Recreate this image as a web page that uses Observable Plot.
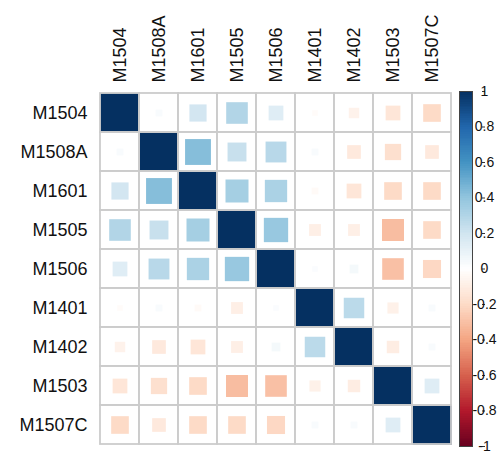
<!DOCTYPE html>
<html>
<head>
<meta charset="utf-8">
<script src="https://cdn.jsdelivr.net/npm/d3@7"></script>
<script src="https://cdn.jsdelivr.net/npm/@observablehq/plot@0.6"></script>
<style>
  html, body { margin: 0; padding: 0; background: #fff; }
  #wrap { position: relative; width: 497px; height: 455px; overflow: hidden; font-family: "Liberation Sans", Arial, sans-serif; }
  #wrap svg { position: absolute; left: 0; top: 0; }
</style>
</head>
<body>
<div id="wrap"></div>
<script>
// Variables (rows and columns, same order)
const vars = ["M1504", "M1508A", "M1601", "M1505", "M1506", "M1401", "M1402", "M1503", "M1507C"];

// Correlation matrix rows
const rowM1504  = [ 1.00,  0.03,  0.19,  0.30,  0.14, -0.02, -0.07, -0.14, -0.20];
const rowM1508A = [ 0.03,  1.00,  0.43,  0.23,  0.28,  0.03, -0.12, -0.17, -0.12];
const rowM1601  = [ 0.19,  0.43,  1.00,  0.34,  0.32, -0.03, -0.14, -0.20, -0.20];
const rowM1505  = [ 0.30,  0.23,  0.34,  1.00,  0.38, -0.09, -0.09, -0.31, -0.20];
const rowM1506  = [ 0.14,  0.28,  0.32,  0.38,  1.00,  0.02,  0.05, -0.30, -0.21];
const rowM1401  = [-0.02,  0.03, -0.03, -0.09,  0.02,  1.00,  0.27, -0.08,  0.03];
const rowM1402  = [-0.07, -0.12, -0.14, -0.09,  0.05,  0.27,  1.00, -0.10,  0.03];
const rowM1503  = [-0.14, -0.17, -0.20, -0.31, -0.30, -0.08, -0.10,  1.00,  0.14];
const rowM1507C = [-0.20, -0.12, -0.20, -0.20, -0.21,  0.03,  0.03,  0.14,  1.00];
const corrRows = [rowM1504, rowM1508A, rowM1601, rowM1505, rowM1506, rowM1401, rowM1402, rowM1503, rowM1507C];

// Colour legend ticks and palette stops (corrplot RdBu)
const legendTicks = [-1, -0.8, -0.6, -0.4, -0.2, 0, 0.2, 0.4, 0.6, 0.8, 1];
const paletteColors = ["#67001F", "#B2182B", "#D6604D", "#F4A582", "#FDDBC7", "#FFFFFF",
                       "#D1E5F0", "#92C5DE", "#4393C3", "#2166AC", "#053061"];

const cells = [];
corrRows.forEach((row, i) => row.forEach((v, j) => cells.push({row: vars[i], col: vars[j], value: v})));

const W = 497, H = 455;
const gLeft = 98, gTop = 91, gRight = 453, gBottom = 446;
const cellSize = (gRight - gLeft) / vars.length;

const colorScale = {type: "linear", domain: legendTicks, range: paletteColors, interpolate: "rgb"};

const main = Plot.plot({
  width: W, height: H,
  marginLeft: gLeft, marginTop: gTop, marginRight: W - gRight, marginBottom: H - gBottom,
  style: {fontFamily: "Liberation Sans, Arial, sans-serif", background: "transparent"},
  x: {type: "band", domain: vars, padding: 0, axis: null},
  y: {type: "band", domain: vars, padding: 0, axis: null},
  color: colorScale,
  r: {type: "sqrt", domain: [0, 1], range: [0, cellSize / Math.sqrt(Math.PI)]},
  marks: [
    Plot.cell(cells, {x: "col", y: "row", fill: "white"}),
    Plot.dot(cells, {x: "col", y: "row", r: d => Math.abs(d.value), fill: "value", symbol: "square"}),
    Plot.cell(cells, {x: "col", y: "row", fill: "none", stroke: "#cccccc", strokeWidth: 1.8}),
    Plot.axisX({anchor: "top", tickSize: 0, tickRotate: -90, tickPadding: 9, fontSize: 18, label: null, fill: "#111"}),
    Plot.axisY({anchor: "left", tickSize: 0, tickPadding: 11, fontSize: 18, label: null, fill: "#111"})
  ]
});

const steps = d3.range(200).map(i => ({y1: -1 + i * 0.01, y2: -1 + (i + 1) * 0.01}));
const legend = Plot.plot({
  width: W, height: H,
  marginLeft: 459, marginRight: W - 472, marginTop: gTop, marginBottom: H - gBottom,
  style: {fontFamily: "Liberation Sans, Arial, sans-serif", background: "transparent", overflow: "visible"},
  x: {domain: [0, 1], axis: null},
  y: {domain: [-1, 1]},
  color: colorScale,
  marks: [
    Plot.rect(steps, {x1: 0, x2: 1, y1: "y1", y2: "y2", fill: d => (d.y1 + d.y2) / 2, inset: -0.4, shapeRendering: "crispEdges"}),
    Plot.frame({stroke: "#444", strokeWidth: 1}),
    Plot.axisY({anchor: "right", ticks: legendTicks, tickSize: 3, tickPadding: 0, textAnchor: "middle", dx: 9,
                fontSize: 14, label: null, fill: "#111", stroke: "#333",
                tickFormat: d => String(Math.round(d * 10) / 10)})
  ]
});

const wrap = document.getElementById("wrap");
wrap.appendChild(main);
wrap.appendChild(legend);
</script>
</body>
</html>
